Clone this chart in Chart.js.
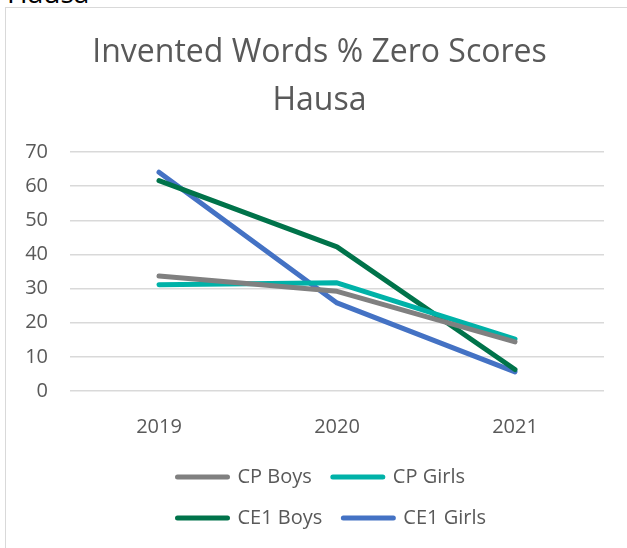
<!DOCTYPE html>
<html><head><meta charset="utf-8">
<script src="https://cdn.jsdelivr.net/npm/chart.js@4.4.0/dist/chart.umd.min.js"></script>
<style>
html,body{margin:0;padding:0;background:#fff;width:627px;height:548px;overflow:hidden;position:relative;}
#above{position:absolute;left:7px;top:-22px;font-family:'Open Sans';font-size:28px;line-height:28px;color:#000;white-space:nowrap;}
#frame{position:absolute;left:5px;top:7px;width:700px;height:700px;border:1px solid #d9d9d9;}
canvas{position:absolute;left:0;top:0;}
</style></head>
<body>
<div id="above">Hausa</div>
<div id="frame"></div>
<canvas id="c" width="627" height="548"></canvas>
<script>
const categories = ['2019', '2020', '2021'];
const cpBoys = [33.7, 29.2, 14.4];
const cpGirls = [31.1, 31.7, 15.2];
const ce1Boys = [61.6, 42.2, 6.3];
const ce1Girls = [64.1, 25.8, 5.6];
const seriesNames = ['CP Boys', 'CP Girls', 'CE1 Boys', 'CE1 Girls'];
const seriesColors = ['#808080', '#00b2a8', '#00734a', '#4472c4'];
const titleLines = ['Invented Words % Zero Scores', 'Hausa'];
const yMin = 0, yMax = 70, yStep = 10;

const seriesValues = [cpBoys, cpGirls, ce1Boys, ce1Girls];
const FONT = "'Open Sans', 'DejaVu Sans', sans-serif";
const TXT = '#595959';
const PLOT_BOTTOM = 391;

const legendPlacer = {
  id: 'legendPlacer',
  afterLayout(chart) {
    const lg = chart.legend;
    if (!lg) return;
    lg.left = 156.5;
    lg.right = 580;
    lg.top = 446;
    lg.bottom = 548;
  }
};

new Chart(document.getElementById('c'), {
  type: 'line',
  data: {
    labels: categories,
    datasets: seriesNames.map((n, i) => ({
      label: n,
      data: seriesValues[i],
      borderColor: seriesColors[i],
      backgroundColor: seriesColors[i],
      borderWidth: 5,
      borderCapStyle: 'round',
      borderJoinStyle: 'round',
      pointRadius: 0,
      tension: 0
    }))
  },
  options: {
    responsive: false,
    animation: false,
    layout: { padding: { left: 12, right: 0, top: 0, bottom: 0 } },
    plugins: {
      tooltip: { enabled: false },
      title: {
        display: true,
        text: titleLines,
        color: TXT,
        font: { family: FONT, size: 32, weight: 'normal', lineHeight: 1.5 },
        padding: { top: 29, bottom: 27 }
      },
      legend: {
        position: 'bottom',
        align: 'start',
        labels: {
          boxWidth: 50,
          boxHeight: 0,
          padding: 21,
          color: TXT,
          font: { family: FONT, size: 20 }
        }
      }
    },
    scales: {
      x: {
        offset: true,
        grid: { display: false },
        border: { display: false },
        ticks: { color: TXT, font: { family: FONT, size: 20 }, padding: 16 },
        afterFit(s) { s.height = (548 - PLOT_BOTTOM) - s.chart.legend.height; }
      },
      y: {
        min: yMin, max: yMax,
        ticks: { stepSize: yStep, color: TXT, font: { family: FONT, size: 20 }, padding: 22 },
        grid: { color: '#d9d9d9', lineWidth: 1.5, drawTicks: false },
        border: { display: false },
        afterFit(s) { s.width = 58; }
      },
      yRight: {
        position: 'right',
        min: yMin, max: yMax,
        ticks: { display: false },
        grid: { display: false, drawTicks: false },
        border: { display: false },
        afterFit(s) { s.width = 23; }
      }
    }
  },
  plugins: [legendPlacer]
});
</script>
</body></html>
